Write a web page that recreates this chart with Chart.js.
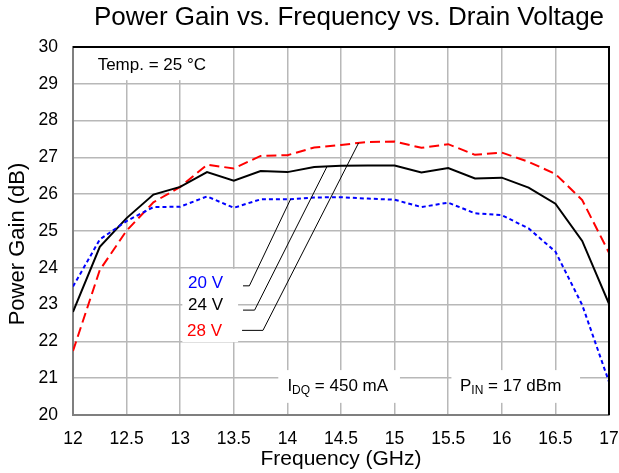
<!DOCTYPE html>
<html lang="en">
<head>
<meta charset="UTF-8">
<title>Power Gain vs. Frequency vs. Drain Voltage</title>
<script src="https://cdn.jsdelivr.net/npm/chart.js"></script>
<style>
  html, body { margin: 0; padding: 0; background: #fff; }
  #wrap { width: 619px; height: 473px; }
</style>
</head>
<body>
<div id="wrap"><canvas id="gainChart" width="619" height="473"></canvas></div>
<script>
// frequency points (GHz)
const freq = [12, 12.25, 12.5, 12.75, 13, 13.25, 13.5, 13.75, 14, 14.25, 14.5,
              14.75, 15, 15.25, 15.5, 15.75, 16, 16.25, 16.5, 16.75, 17];
// power gain (dB) per drain voltage
const gain20 = [23.49, 24.77, 25.27, 25.65, 25.66, 25.94, 25.63, 25.86, 25.86, 25.91, 25.92,
                25.88, 25.85, 25.65, 25.77, 25.48, 25.43, 25.07, 24.44, 22.99, 20.9];
const gain24 = [22.8, 24.57, 25.35, 25.99, 26.2, 26.6, 26.37, 26.63, 26.6, 26.74, 26.77,
                26.78, 26.78, 26.59, 26.71, 26.43, 26.45, 26.18, 25.74, 24.73, 23.02];
const gain28 = [21.74, 23.94, 25.01, 25.78, 26.2, 26.8, 26.7, 27.04, 27.06, 27.27, 27.34,
                27.42, 27.43, 27.26, 27.36, 27.07, 27.13, 26.88, 26.55, 25.84, 24.41];
const seriesNames = ['20 V', '24 V', '28 V'];
const seriesColors = ['#0000ff', '#000000', '#ff0000'];

const FONT = "'Liberation Sans', Arial, sans-serif";

function toPoints(ys) {
    return freq.map((f, i) => ({ x: f, y: ys[i] }));
}

// linear interpolation on a series, used for leader line ends
function interp(ys, f) {
    for (let i = 0; i < freq.length - 1; i++) {
        if (f >= freq[i] && f <= freq[i + 1]) {
            const t = (f - freq[i]) / (freq[i + 1] - freq[i]);
            return ys[i] + t * (ys[i + 1] - ys[i]);
        }
    }
    return ys[ys.length - 1];
}

// white boxes behind the notes: [x0, x1, y0, y1] in data units
const noteBoxes = [
    [12.02, 13.38, 29.1, 29.98],
    [13.02, 13.54, 21.98, 23.97],
    [13.915, 15.05, 20.33, 21.22],
    [15.53, 16.73, 20.33, 21.22]
];
// series labels: right edge x, middle y
const labelPos = [[13.40, 23.59], [13.40, 22.97], [13.39, 22.28]];
// leader lines: start x, y, knee x, end x on the curve
const leaders = [
    [13.586, 23.51, 13.645, 14.03, gain20],
    [13.586, 22.85, 13.694, 14.37, gain24],
    [13.577, 22.30, 13.772, 14.664, gain28]
];

const notes = {
    id: 'notes',
    beforeDatasetsDraw(chart) {
        const { ctx, scales: { x, y } } = chart;
        ctx.save();
        ctx.fillStyle = '#fff';
        noteBoxes.forEach(b => {
            const x0 = x.getPixelForValue(b[0]), x1 = x.getPixelForValue(b[1]);
            const y0 = y.getPixelForValue(b[2]), y1 = y.getPixelForValue(b[3]);
            ctx.fillRect(x0, y1, x1 - x0, y0 - y1);
        });
        ctx.restore();
    },
    afterDatasetsDraw(chart) {
        const { ctx, chartArea: a, scales: { x, y } } = chart;
        ctx.save();

        // leader lines
        ctx.strokeStyle = '#000';
        ctx.lineWidth = 1;
        leaders.forEach(l => {
            ctx.beginPath();
            ctx.moveTo(x.getPixelForValue(l[0]), y.getPixelForValue(l[1]));
            ctx.lineTo(x.getPixelForValue(l[2]), y.getPixelForValue(l[1]));
            ctx.lineTo(x.getPixelForValue(l[3]), y.getPixelForValue(interp(l[4], l[3])));
            ctx.stroke();
        });

        ctx.textBaseline = 'middle';
        // series labels
        ctx.font = '17px ' + FONT;
        ctx.textAlign = 'right';
        labelPos.forEach((p, i) => {
            ctx.fillStyle = seriesColors[i];
            ctx.fillText(seriesNames[i], x.getPixelForValue(p[0]), y.getPixelForValue(p[1]));
        });

        // temperature note
        ctx.fillStyle = '#000';
        ctx.textAlign = 'left';
        ctx.fillText('Temp. = 25 °C', x.getPixelForValue(12.23), y.getPixelForValue(29.51));

        // notes with subscripts
        function subNote(main, sub, rest, fx, fy) {
            let px = x.getPixelForValue(fx);
            const py = y.getPixelForValue(fy);
            ctx.font = '17px ' + FONT;
            ctx.fillText(main, px, py);
            px += ctx.measureText(main).width;
            ctx.font = '12px ' + FONT;
            ctx.fillText(sub, px, py + 5);
            px += ctx.measureText(sub).width;
            ctx.font = '17px ' + FONT;
            ctx.fillText(rest, px, py);
        }
        subNote('I', 'DQ', ' = 450 mA', 14.0, 20.79);
        subNote('P', 'IN', ' = 17 dBm', 15.61, 20.79);

        // top and right frame
        ctx.strokeStyle = '#000';
        ctx.lineWidth = 2;
        ctx.beginPath();
        ctx.moveTo(a.left, a.top);
        ctx.lineTo(a.right, a.top);
        ctx.lineTo(a.right, a.bottom);
        ctx.stroke();

        // chart title
        ctx.font = '26px ' + FONT;
        ctx.textAlign = 'center';
        ctx.fillStyle = '#000';
        ctx.fillText('Power Gain vs. Frequency vs. Drain Voltage', (a.left + a.right) / 2 + 8, 18);

        // y axis title, sits a little below the middle of the axis
        ctx.font = '22px ' + FONT;
        ctx.translate(18, (a.top + a.bottom) / 2 + 13);
        ctx.rotate(-Math.PI / 2);
        ctx.fillText('Power Gain (dB)', 0, 0);
        ctx.restore();
    }
};

const ctx = document.getElementById('gainChart');
new Chart(ctx, {
    type: 'line',
    data: {
        datasets: [
            { label: seriesNames[0], data: toPoints(gain20), borderColor: seriesColors[0],
              borderWidth: 2, borderDash: [4, 3], pointRadius: 0, tension: 0 },
            { label: seriesNames[1], data: toPoints(gain24), borderColor: seriesColors[1],
              borderWidth: 2, pointRadius: 0, tension: 0 },
            { label: seriesNames[2], data: toPoints(gain28), borderColor: seriesColors[2],
              borderWidth: 2, borderDash: [10, 5], pointRadius: 0, tension: 0 }
        ]
    },
    options: {
        responsive: false,
        animation: false,
        layout: { padding: { top: 47, right: 10, left: 0, bottom: 0 } },
        plugins: {
            legend: { display: false },
            tooltip: { enabled: false },
            title: { display: false }
        },
        scales: {
            x: {
                type: 'linear',
                min: 12,
                max: 17,
                afterFit: s => { s.height = 58; s.paddingRight = 0; s.paddingLeft = 0; },
                border: { color: '#7f7f7f', width: 2 },
                grid: { color: '#b8b8b8', lineWidth: 1.5, drawTicks: true, tickLength: 14,
                        tickColor: 'rgba(0,0,0,0)' },
                ticks: { stepSize: 0.5, autoSkip: false, padding: 0, color: '#000',
                         font: { family: FONT, size: 17.5 },
                         callback: v => String(Math.round(v * 10) / 10) },
                title: { display: true, text: 'Frequency (GHz)', color: '#000',
                         font: { family: FONT, size: 21 }, padding: { top: 0, bottom: 1 } }
            },
            y: {
                min: 20,
                max: 30,
                afterFit: s => { s.width = 73; },
                border: { color: '#7f7f7f', width: 2 },
                grid: { color: '#b8b8b8', lineWidth: 1.5, drawTicks: false },
                ticks: { stepSize: 1, padding: 15, color: '#000',
                         font: { family: FONT, size: 17.5 } },
                title: { display: false }
            }
        }
    },
    plugins: [notes]
});
</script>
</body>
</html>
